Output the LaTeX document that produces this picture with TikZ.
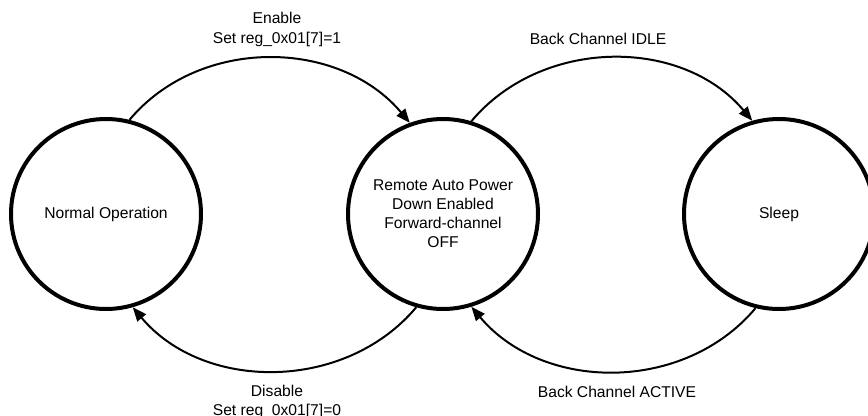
\documentclass[tikz,border=0pt]{standalone}
\usepackage{fontspec}
\setmainfont{Liberation Sans}
\usetikzlibrary{arrows.meta}
\begin{document}
\begin{tikzpicture}[x=1bp,y=1bp,
  state/.style={circle,draw=black,line width=4bp,minimum size=190bp,inner sep=0pt,
    align=center,font=\fontsize{15.7}{19.2}\selectfont},
  trans/.style={line width=2bp,-{Triangle[length=14bp,width=11bp]}},
  lbl/.style={align=center,font=\fontsize{15.7}{19.2}\selectfont,inner sep=0pt}]
\path[use as bounding box] (0,0) rectangle (868,415);
\clip (0,0) rectangle (868,415);
\node[state] (L) at (106,201) {Normal Operation};
\node[state] (M) at (443,201) {Remote Auto Power\\Down Enabled\\Forward-channel\\OFF};
\node[state] (R) at (779,201) {Sleep};
\draw[trans] (L.76) to[out=50,in=130] (M.110);
\draw[trans] (M.73) to[out=50,in=130] (R.106);
\draw[trans] (M.-106) to[out=-130,in=-50] (L.-74);
\draw[trans] (R.-104) to[out=-130,in=-50] (M.-73);
\node[lbl] (t1) at (277,385.5) {Enable\\Set reg\_0x01[7]=1};
\node[lbl] (t2) at (598,376) {Back Channel IDLE};
\node[lbl] (t3) at (277,13) {Disable\\Set reg\_0x01[7]=0};
\node[lbl] (t4) at (617,23) {Back Channel ACTIVE};
\end{tikzpicture}
\end{document}
